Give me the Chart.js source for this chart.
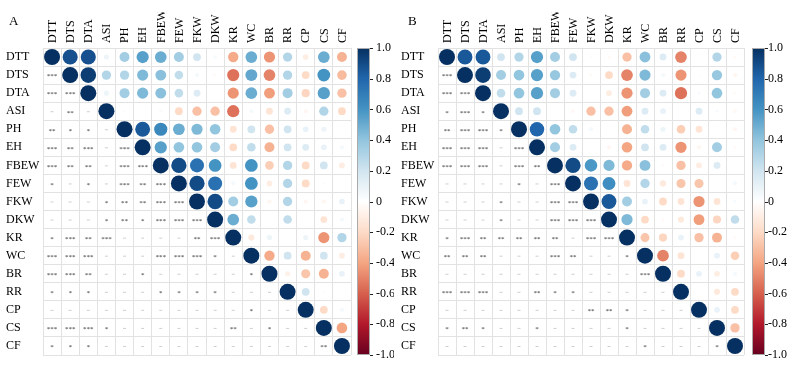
<!DOCTYPE html>
<html>
<head>
<meta charset="utf-8">
<script src="https://cdn.jsdelivr.net/npm/chart.js@4"></script>
<style>
html, body { margin: 0; padding: 0; background: #fff; }
.wrap { display: flex; width: 800px; height: 368px; }
canvas { display: block; }
</style>
</head>
<body>
<div class="wrap">
  <canvas id="corrA" width="400" height="368"></canvas>
  <canvas id="corrB" width="400" height="368"></canvas>
</div>
<script>
var variables = ["DTT","DTS","DTA","ASI","PH","EH","FBEW","FEW","FKW","DKW","KR","WC","BR","RR","CP","CS","CF"];

// upper triangle: row i holds r with columns i+1 .. 16
var corrA = [
    [0.88, 0.88, 0.08, 0.35, 0.55, 0.50, 0.35, 0.20, 0.04, -0.38, 0.50, -0.45, 0.30, -0.10, 0.50, -0.35],
    [0.95, 0.30, 0.30, 0.45, 0.42, 0.25, 0.05, -0.03, -0.55, 0.52, -0.50, 0.30, -0.20, 0.60, -0.32],
    [0.08, 0.35, 0.45, 0.42, 0.25, 0.15, 0, -0.45, 0.50, -0.42, 0.35, -0.22, 0.55, -0.30],
    [0.02, 0, 0.03, -0.20, -0.30, -0.30, -0.55, 0.05, -0.15, 0.15, -0.05, 0.30, -0.20],
    [0.85, 0.65, 0.50, 0.45, 0.40, -0.15, 0.20, -0.30, 0.20, 0.10, 0.08, 0],
    [0.55, 0.40, 0.40, 0.35, -0.20, 0.25, -0.35, 0.20, 0.15, 0.10, 0.05],
    [0.90, 0.75, 0.60, -0.15, 0.60, -0.25, 0.30, -0.20, 0.20, -0.10],
    [0.90, 0.75, 0.05, 0.60, -0.10, 0.30, -0.20, 0.02, 0],
    [0.90, 0.35, 0.55, -0.05, 0.30, -0.05, -0.05, 0.10],
    [0.50, 0.25, 0, 0.25, 0, -0.15, 0.05],
    [-0.12, 0.08, 0, 0.08, -0.45, 0.30],
    [-0.38, 0.20, -0.35, 0.20, -0.10],
    [-0.08, -0.28, -0.35, 0.10],
    [0.20, 0.02, 0],
    [-0.20, 0.05],
    [-0.40]
];

// lower triangle: significance of row i+1 against columns 0 .. i
var sigA = [
    "***",
    "*** ***",
    "- ** -",
    "** * * -",
    "*** ** *** - ***",
    "*** ** ** - *** ***",
    "* - * - *** ** ***",
    "- - - * ** ** *** ***",
    "- - - * ** * *** *** ***",
    "* *** ** *** - - - - ** ***",
    "*** *** *** - - - *** *** *** * -",
    "*** *** ** - - * - - - - - *",
    "* * * - - - * * * * - - -",
    "- - - - - - - - - - - * - -",
    "*** *** *** * - - - - - - ** - * - -",
    "* * * - - - - - - - - - - - - **"
];

var corrB = [
    [0.85, 0.85, 0.20, 0.30, 0.55, 0.35, 0.20, 0.02, -0.03, -0.30, 0.42, 0.15, -0.50, 0, 0.30, -0.03],
    [0.95, 0.35, 0.40, 0.55, 0.38, 0.15, -0.03, -0.20, -0.50, 0.45, 0.05, -0.45, 0.02, 0.38, -0.05],
    [0.25, 0.40, 0.55, 0.35, 0.15, 0, -0.10, -0.45, 0.35, 0.15, -0.55, 0.03, 0.40, -0.03],
    [0.20, 0.20, 0, -0.04, -0.30, -0.30, -0.42, 0.15, 0.10, 0, 0.15, 0.03, -0.04],
    [0.80, 0.40, 0.25, 0.05, 0, -0.35, 0.25, 0.08, -0.25, -0.15, 0, -0.05],
    [0.35, 0.15, 0, -0.05, -0.40, 0.20, 0.15, -0.45, -0.05, 0.35, -0.03],
    [0.90, 0.58, 0.45, -0.38, 0.42, -0.02, -0.30, -0.10, 0.15, 0],
    [0.75, 0.62, -0.15, 0.30, -0.12, -0.28, -0.28, 0, 0.05],
    [0.85, 0.35, 0.10, -0.20, -0.15, -0.45, -0.15, 0.03],
    [0.45, -0.20, -0.03, -0.12, -0.42, -0.22, 0.25],
    [-0.28, -0.22, 0.10, -0.30, -0.35, -0.03],
    [-0.50, -0.15, 0, 0.10, -0.25],
    [-0.20, 0.10, -0.10, 0.05],
    [0, -0.12, -0.20],
    [0.10, -0.20],
    [-0.30]
];

var sigB = [
    "***",
    "*** ***",
    "* *** *",
    "** *** *** *",
    "*** *** *** - ***",
    "*** *** *** - *** **",
    "- - - - * - ***",
    "- - - * - - *** ***",
    "- - - * - - *** *** ***",
    "* *** ** ** ** ** ** - *** ***",
    "** ** ** - - - *** ** - - *",
    "- - - - - - - - - - - ***",
    "*** *** *** - - ** * * - - - - -",
    "- - - - - - - - ** ** * - - -",
    "* ** * - - * - - - - * - - - -",
    "- - - - - - - - - - - * - - - *"
];

var colorbarTicks = [-1, -0.8, -0.6, -0.4, -0.2, 0, 0.2, 0.4, 0.6, 0.8, 1];
var rdbu = ["#67001F","#B2182B","#D6604D","#F4A582","#FDDBC7","#FFFFFF","#D1E5F0","#92C5DE","#4393C3","#2166AC","#053061"];

function hexRgb(h) {
    return [parseInt(h.substr(1, 2), 16), parseInt(h.substr(3, 2), 16), parseInt(h.substr(5, 2), 16)];
}

function corrColor(v) {
    var t = (v + 1) / 2 * 10;
    var k = Math.min(9, Math.floor(t));
    var f = t - k;
    var a = hexRgb(rdbu[k]), b = hexRgb(rdbu[k + 1]);
    var c = a.map(function (x, n) { return Math.round(x + (b[n] - x) * f); });
    return 'rgb(' + c.join(',') + ')';
}

// circle radius in px for a correlation
function corrRadius(v) {
    return 8 * Math.pow(Math.abs(v), 0.45);
}

var serif = "'Liberation Serif', 'Times New Roman', serif";

var corrPlugin = {
    id: 'corrExtras',
    afterDatasetsDraw: function (chart, args, opts) {
        var ctx = chart.ctx;
        var xs = chart.scales.x, ys = chart.scales.y, cb = chart.scales.cb;
        var area = chart.chartArea;
        ctx.save();
        // significance marks
        ctx.textAlign = 'center';
        ctx.textBaseline = 'middle';
        opts.sig.forEach(function (row, r) {
            var i = r + 1;
            row.split(' ').forEach(function (code, j) {
                var x = xs.getPixelForValue(j), y = ys.getPixelForValue(i);
                if (code === '-') {
                    ctx.fillStyle = '#cfcfcf';
                    ctx.fillRect(x - 1.5, y, 3, 1);
                } else {
                    ctx.fillStyle = '#333';
                    ctx.font = '7px ' + serif;
                    ctx.fillText(code, x, y + 1.5);
                }
            });
        });
        // colour bar
        var x0 = area.right + opts.barGap;
        var top = cb.getPixelForValue(1), bottom = cb.getPixelForValue(-1);
        var grad = ctx.createLinearGradient(0, bottom, 0, top);
        rdbu.forEach(function (c, n) { grad.addColorStop(n / 10, c); });
        ctx.fillStyle = grad;
        ctx.fillRect(x0, top, 13, bottom - top);
        ctx.strokeStyle = '#aaa';
        ctx.lineWidth = 1;
        ctx.strokeRect(x0 + 0.5, top + 0.5, 12, bottom - top - 1);
        ctx.strokeStyle = '#222';
        colorbarTicks.forEach(function (v) {
            var y = Math.round(cb.getPixelForValue(v)) + 0.5;
            ctx.beginPath();
            ctx.moveTo(x0 + 13, y);
            ctx.lineTo(x0 + 16, y);
            ctx.stroke();
        });
        // panel letter
        ctx.fillStyle = '#000';
        ctx.font = '13px ' + serif;
        ctx.textAlign = 'left';
        ctx.fillText(opts.letter, opts.letterX, 22);
        ctx.restore();
    }
};

function makeChart(id, corr, sig, letter, pad) {
    var points = [];
    variables.forEach(function (name, i) {
        points.push({x: name, y: name, r: corrRadius(1), v: 1});
        if (i < corr.length) {
            corr[i].forEach(function (v, k) {
                if (v !== 0) {
                    points.push({x: variables[i + 1 + k], y: name, r: corrRadius(v), v: v});
                }
            });
        }
    });

    var gridColor = '#e2e2e2';
    var tickFont = {family: serif, size: 12};

    new Chart(document.getElementById(id), {
        type: 'bubble',
        data: {
            datasets: [{
                data: points,
                backgroundColor: function (c) { return c.raw ? corrColor(c.raw.v) : '#fff'; },
                borderWidth: 0
            }]
        },
        options: {
            responsive: false,
            animation: false,
            layout: {padding: {left: pad.left, right: pad.right, top: 12, bottom: 13}},
            plugins: {
                legend: {display: false},
                tooltip: {enabled: false},
                corrExtras: {sig: sig, letter: letter, letterX: pad.letterX, barGap: pad.barGap}
            },
            scales: {
                x: {
                    type: 'category',
                    labels: variables,
                    position: 'top',
                    offset: true,
                    grid: {offset: true, color: gridColor, drawTicks: false},
                    border: {color: gridColor},
                    ticks: {minRotation: 90, maxRotation: 90, autoSkip: false, padding: 5, labelOffset: 15, color: '#000', font: tickFont},
                    afterFit: function (s) { s.height = 36; }
                },
                y: {
                    type: 'category',
                    labels: variables,
                    position: 'left',
                    offset: true,
                    grid: {offset: true, color: gridColor, drawTicks: false},
                    border: {color: gridColor},
                    ticks: {crossAlign: 'far', autoSkip: false, padding: 2, color: '#000', font: tickFont},
                    afterFit: function (s) { s.width = 37; }
                },
                cb: {
                    type: 'linear',
                    position: 'right',
                    min: -1,
                    max: 1,
                    grid: {display: true, drawOnChartArea: false, drawTicks: true, tickLength: pad.labelGap, color: 'rgba(0,0,0,0)'},
                    border: {display: false},
                    afterBuildTicks: function (s) {
                        s.ticks = colorbarTicks.map(function (v) { return {value: v}; });
                    },
                    ticks: {
                        padding: 0,
                        color: '#000',
                        font: tickFont,
                        callback: function (v) { return Math.abs(v) < 1e-9 ? '0' : v.toFixed(1); }
                    },
                    afterFit: function (s) { s.width = 43; }
                }
            }
        },
        plugins: [corrPlugin]
    });
}

makeChart('corrA', corrA, sigA, 'A', {left: 6, right: 6, letterX: 9, barGap: 6, labelGap: 25});
makeChart('corrB', corrB, sigB, 'B', {left: 1, right: 13, letterX: 8, barGap: 8, labelGap: 24});
</script>
</body>
</html>
